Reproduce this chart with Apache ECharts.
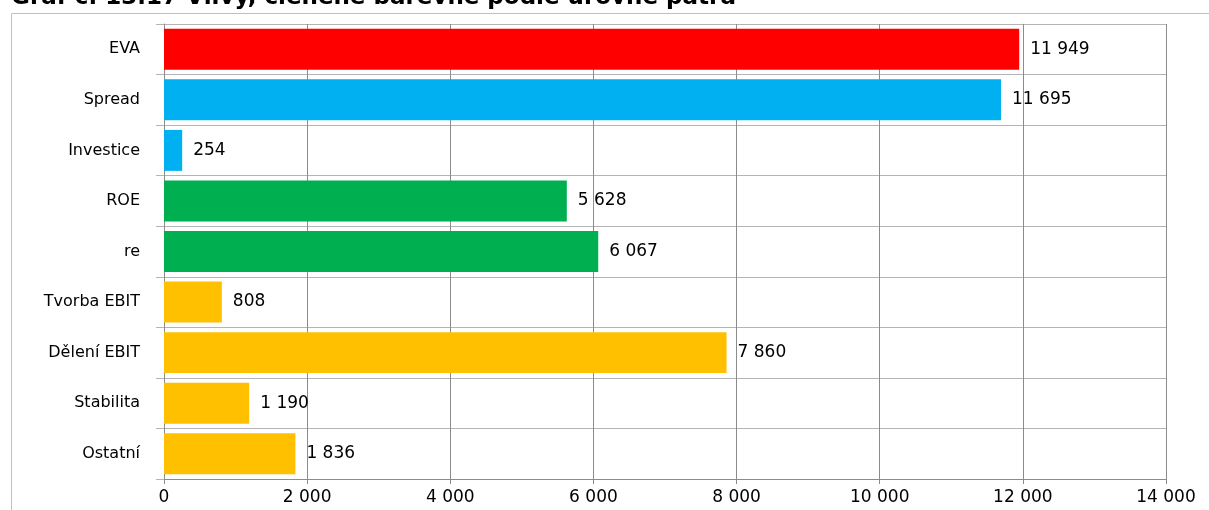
<!DOCTYPE html>
<html>
<head>
<meta charset="utf-8">
<script src="https://cdn.jsdelivr.net/npm/echarts@6/dist/echarts.min.js"></script>
<style>
  html, body { margin: 0; padding: 0; background: #fff; }
  #chart { width: 1209px; height: 510px; }
</style>
</head>
<body>
<div id="chart"></div>
<script>
// Influences on EVA, coloured by pyramid level
const categories = ['EVA', 'Spread', 'Investice', 'ROE', 're', 'Tvorba EBIT', 'Dělení EBIT', 'Stabilita', 'Ostatní'];
const values = [11949, 11695, 254, 5628, 6067, 808, 7860, 1190, 1836];
const levelColors = ['#FF0000', '#00B0F0', '#00B0F0', '#00B050', '#00B050', '#FFC000', '#FFC000', '#FFC000', '#FFC000'];
const titleText = 'Graf č. 13.17 Vlivy, členěné barevně podle úrovně patra';

const fmt = v => String(v).replace(/\B(?=(\d{3})+(?!\d))/g, ' ');
const FONT = 'DejaVu Sans';

const chart = echarts.init(document.getElementById('chart'));
chart.setOption({
  animation: false,
  title: {
    text: titleText,
    left: 6,
    top: -18,
    textStyle: { fontFamily: FONT, fontWeight: 'bold', fontSize: 23, color: '#000' }
  },
  graphic: [{
    type: 'rect',
    shape: { x: 11.5, y: 13.5, width: 1400, height: 700 },
    style: { fill: 'none', stroke: '#c0c0c0', lineWidth: 1 },
    silent: true
  }],
  grid: { left: 164, right: 43, top: 24, bottom: 31, containLabel: false },
  xAxis: {
    type: 'value',
    min: 0,
    max: 14000,
    interval: 2000,
    axisLine: { show: true, lineStyle: { color: '#8c8c8c' } },
    axisTick: { show: true, length: 5, lineStyle: { color: '#8c8c8c' } },
    splitLine: { show: true, lineStyle: { color: '#8c8c8c' } },
    axisLabel: { fontFamily: FONT, fontSize: 17, color: '#000', margin: 10, formatter: fmt }
  },
  yAxis: {
    type: 'category',
    data: categories,
    inverse: true,
    axisLine: { show: true, lineStyle: { color: '#8c8c8c' } },
    axisTick: { show: true, length: 8, lineStyle: { color: '#b4b4b4' } },
    splitLine: { show: true, lineStyle: { color: '#b4b4b4' } },
    axisLabel: { fontFamily: FONT, fontSize: 16, color: '#000', margin: 24 }
  },
  series: [{
    type: 'bar',
    data: values.map((v, i) => ({ value: v, itemStyle: { color: levelColors[i] } })),
    barCategoryGap: '19%',
    label: {
      show: true,
      position: 'right',
      distance: 11,
      fontFamily: FONT,
      fontSize: 17,
      color: '#000',
      formatter: p => fmt(p.value)
    }
  }]
});
</script>
</body>
</html>
